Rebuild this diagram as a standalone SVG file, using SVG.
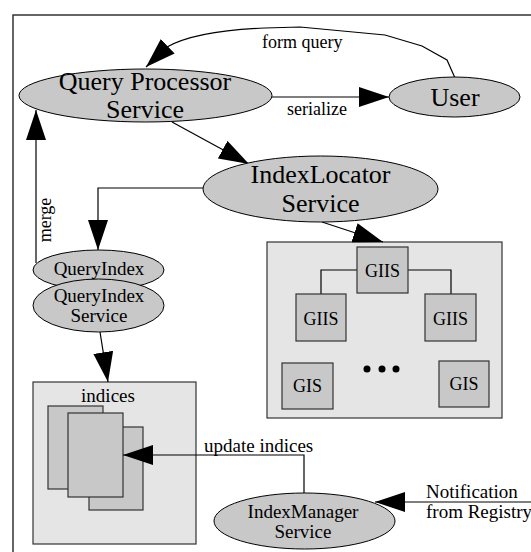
<svg xmlns="http://www.w3.org/2000/svg" width="531" height="552" viewBox="0 0 531 552">
<defs>
<style>
text{font-family:"Liberation Serif","Times New Roman",serif;fill:#000}
.node ellipse{fill:#c8c8c8;stroke:#000;stroke-width:1}
.box{fill:#e5e5e5;stroke:#333;stroke-width:1.2}
.inner{fill:#c8c8c8;stroke:#333;stroke-width:1.2}
.edge{fill:none;stroke:#000;stroke-width:1.2}
.big{font-size:26px}
.mid{font-size:19px}
.sm{font-size:18px}
</style>
<marker id="ah" markerUnits="userSpaceOnUse" markerWidth="30" markerHeight="20" refX="30" refY="10" orient="auto" viewBox="0 0 30 20">
<path d="M0,0 L30,10 L0,20 z" fill="#000"/>
</marker>
</defs>
<rect x="0" y="0" width="531" height="552" fill="#fff"/>
<path d="M13,552 V15 H531" fill="none" stroke="#333" stroke-width="1.5"/>

<g id="gis-box">
<rect class="box" x="267" y="242" width="235" height="176"/>
<path class="edge" d="M357,270 H321 V294 M408,270 H451 V294"/>
<rect class="inner" x="357" y="247" width="51" height="46"/>
<text class="sm" x="382.5" y="277" text-anchor="middle">GIIS</text>
<rect class="inner" x="296" y="294" width="50" height="47"/>
<text class="sm" x="321" y="325" text-anchor="middle">GIIS</text>
<rect class="inner" x="425" y="294" width="51" height="47"/>
<text class="sm" x="450.5" y="325" text-anchor="middle">GIIS</text>
<rect class="inner" x="282" y="363" width="51" height="46"/>
<text class="sm" x="307.5" y="392" text-anchor="middle">GIS</text>
<rect class="inner" x="439" y="361" width="50" height="46"/>
<text class="sm" x="464" y="390" text-anchor="middle">GIS</text>
<circle cx="367" cy="369" r="3.5" fill="#000"/>
<circle cx="382" cy="369" r="3.5" fill="#000"/>
<circle cx="396" cy="369" r="3.5" fill="#000"/>
</g>

<g id="indices">
<rect class="box" x="33" y="382" width="163" height="162"/>
<text class="mid" x="108" y="402" text-anchor="middle">indices</text>
<rect class="inner" x="48" y="406" width="55" height="83"/>
<rect class="inner" x="89" y="427" width="54" height="83"/>
<rect class="inner" x="68" y="413" width="55" height="84"/>
</g>

<g id="connectors">
<path class="edge" d="M455,78 L447,60 L422,46 L385,35 L300,27 L265,28 C215,30 185,37 167,47 L146,67" marker-end="url(#ah)"/>
<path class="edge" d="M272,97 H389" marker-end="url(#ah)"/>
<path class="edge" d="M172,122 L249,164" marker-end="url(#ah)"/>
<path class="edge" d="M203,188 H98 V250" marker-end="url(#ah)"/>
<path class="edge" d="M36,263 V110" marker-end="url(#ah)"/>
<path class="edge" d="M322,222 L383,242" marker-end="url(#ah)"/>
<path class="edge" d="M100,332 L108,382" marker-end="url(#ah)"/>
<path class="edge" d="M304,493 V455 H123" marker-end="url(#ah)"/>
<path class="edge" d="M531,502 H375" marker-end="url(#ah)"/>
<text class="sm" x="262" y="48">form query</text>
<text class="sm" x="287" y="115">serialize</text>
<text class="sm" transform="translate(51,220) rotate(-90)" text-anchor="middle">merge</text>
<text class="mid" x="204" y="452">update indices</text>
<text class="mid" x="426" y="498">Notification</text>
<text class="mid" x="426" y="518">from Registry</text>
</g>

<g id="query-processor" class="node">
<ellipse cx="145.5" cy="95.5" rx="126.5" ry="26.5"/>
<text class="big" x="145" y="90" text-anchor="middle">Query Processor</text>
<text class="big" x="145" y="118" text-anchor="middle">Service</text>
</g>

<g id="user" class="node">
<ellipse cx="454.5" cy="97" rx="65.5" ry="20"/>
<text class="big" x="455" y="106" text-anchor="middle">User</text>
</g>

<g id="index-locator" class="node">
<ellipse cx="320.5" cy="189" rx="117.5" ry="33"/>
<text class="big" x="320.5" y="183" text-anchor="middle">IndexLocator</text>
<text class="big" x="320.5" y="212" text-anchor="middle">Service</text>
</g>

<g id="query-index" class="node">
<ellipse cx="98.5" cy="270" rx="65.5" ry="20"/>
<text class="mid" x="99" y="275" text-anchor="middle">QueryIndex</text>
</g>

<g id="query-index-service" class="node">
<ellipse cx="98.5" cy="305.5" rx="65.5" ry="26.5"/>
<text class="mid" x="99" y="302" text-anchor="middle">QueryIndex</text>
<text class="mid" x="99" y="322" text-anchor="middle">Service</text>
</g>

<g id="index-manager" class="node">
<ellipse cx="304.5" cy="521" rx="90.5" ry="28"/>
<text class="mid" x="303" y="518" text-anchor="middle">IndexManager</text>
<text class="mid" x="303" y="538" text-anchor="middle">Service</text>
</g>
</svg>
